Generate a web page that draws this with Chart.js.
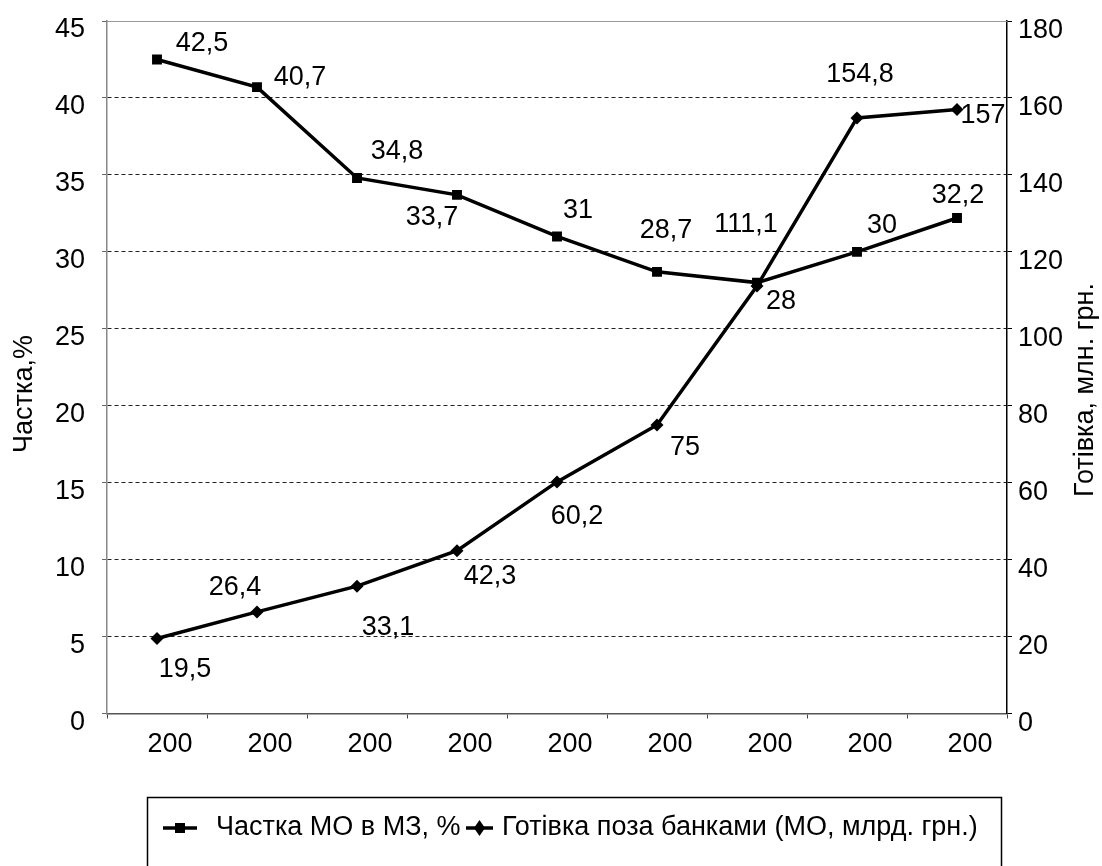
<!DOCTYPE html>
<html>
<head>
<meta charset="utf-8">
<script src="https://cdn.jsdelivr.net/npm/chart.js@4.4.1/dist/chart.umd.min.js"></script>
<style>
  html, body { margin: 0; padding: 0; background: #fff; }
  #wrap { width: 1102px; height: 866px; position: relative; }
</style>
</head>
<body>
<div id="wrap"><canvas id="chart" width="1102" height="866"></canvas></div>
<script>
// tick labels on the category axis (cut off in the source picture)
const years = ['200', '200', '200', '200', '200', '200', '200', '200', '200'];
// share of M0 in M3, %
const shareMO = [42.5, 40.7, 34.8, 33.7, 31, 28.7, 28, 30, 32.2];
// cash outside banks
const cashOutside = [19.5, 26.4, 33.1, 42.3, 60.2, 75, 111.1, 154.8, 157];

const shareLabel = 'Частка МО в МЗ, %';
const cashLabel = 'Готівка поза банками (МО, млрд. грн.)';
const leftTitle = 'Частка,%';
const rightTitle = 'Готівка, млн. грн.';

// where each value label sits relative to its point
const shareShift = [[45, -16], [43, -10], [40, -26], [-25, 23], [21, -26], [9, -41], [24, 19], [25, -26], [1, -22]];
const cashShift = [[28, 31], [-22, -24], [31, 41], [33, 26], [20, 35], [28, 23], [-11, -62], [3, -43], [26, 6]];

const FONT = "'Liberation Sans', Arial, sans-serif";
const FS = 27;

// value labels next to points
const valueLabels = {
  id: 'valueLabels',
  afterDatasetsDraw(chart) {
    const ctx = chart.ctx;
    const shifts = [shareShift, cashShift];
    ctx.save();
    ctx.font = FS + 'px ' + FONT;
    ctx.fillStyle = '#000';
    ctx.textAlign = 'center';
    ctx.textBaseline = 'middle';
    chart.data.datasets.forEach((ds, di) => {
      chart.getDatasetMeta(di).data.forEach((pt, i) => {
        const s = shifts[di][i];
        ctx.fillText(String(ds.data[i]).replace('.', ','), pt.x + s[0], pt.y + s[1]);
      });
    });
    ctx.restore();
  },
};

// top border, axis titles, framed legend
const frame = {
  id: 'frame',
  afterDraw(chart) {
    const ctx = chart.ctx;
    const a = chart.chartArea;
    ctx.save();

    ctx.strokeStyle = '#999';
    ctx.lineWidth = 1;
    ctx.beginPath();
    ctx.moveTo(a.left, a.top + 0.5);
    ctx.lineTo(a.right, a.top + 0.5);
    ctx.stroke();

    ctx.fillStyle = '#000';
    ctx.font = FS + 'px ' + FONT;
    ctx.textAlign = 'center';
    ctx.textBaseline = 'middle';
    ctx.save();
    ctx.translate(25, 394);
    ctx.rotate(-Math.PI / 2);
    ctx.fillText(leftTitle, 0, 0);
    ctx.restore();
    ctx.save();
    ctx.translate(1086, 390);
    ctx.rotate(-Math.PI / 2);
    ctx.fillText(rightTitle, 0, 0);
    ctx.restore();

    // legend box
    ctx.strokeStyle = '#000';
    ctx.lineWidth = 1.5;
    ctx.strokeRect(147.5, 797.5, 854, 90);

    const ly = 828;
    ctx.lineWidth = 3.5;
    ctx.beginPath();
    ctx.moveTo(163, ly);
    ctx.lineTo(197, ly);
    ctx.stroke();
    ctx.fillRect(175, ly - 5, 10, 10);

    ctx.beginPath();
    ctx.moveTo(466, ly);
    ctx.lineTo(493, ly);
    ctx.stroke();
    ctx.beginPath();
    ctx.moveTo(479.5, ly - 8);
    ctx.lineTo(485, ly);
    ctx.lineTo(479.5, ly + 8);
    ctx.lineTo(474, ly);
    ctx.closePath();
    ctx.fill();

    ctx.textAlign = 'left';
    ctx.fillText(chart.data.datasets[0].label, 216, ly);
    ctx.fillText(chart.data.datasets[1].label, 502, ly);
    ctx.restore();
  },
};

// drop the half-label padding so the plot top sits where the source has it
const noPad = (w) => (scale) => {
  scale.width = w;
  scale.paddingTop = 0;
  scale.paddingBottom = 0;
};

new Chart(document.getElementById('chart'), {
  type: 'line',
  data: {
    labels: years,
    datasets: [
      {
        label: shareLabel,
        data: shareMO,
        yAxisID: 'y',
        borderColor: '#000',
        backgroundColor: '#000',
        borderWidth: 3.5,
        tension: 0,
        pointStyle: 'rect',
        pointRadius: 7,
        pointBorderWidth: 0,
      },
      {
        label: cashLabel,
        data: cashOutside,
        yAxisID: 'y2',
        borderColor: '#000',
        backgroundColor: '#000',
        borderWidth: 3.5,
        tension: 0,
        pointStyle: 'rectRot',
        pointRadius: 6.5,
        pointBorderWidth: 0,
      },
    ],
  },
  options: {
    responsive: false,
    animation: false,
    layout: { padding: { top: 21, left: 0, right: 0, bottom: 0 } },
    plugins: {
      legend: { display: false },
      tooltip: { enabled: false },
    },
    scales: {
      x: {
        offset: true,
        afterFit: (scale) => { scale.height = 152.5; },
        grid: {
          offset: true,
          drawOnChartArea: false,
          tickLength: 5,
          tickColor: '#444',
        },
        border: { color: '#555', width: 1.5 },
        ticks: {
          color: '#000',
          font: { family: FONT, size: FS },
          padding: 10,
          labelOffset: 13,
          maxRotation: 0,
          autoSkip: false,
        },
      },
      y: {
        position: 'left',
        min: 0,
        max: 45,
        afterFit: noPad(107),
        grid: {
          color: (c) => (c.tick && (c.tick.value === 0 || c.tick.value === 45) ? 'rgba(0,0,0,0)' : '#222'),
          lineWidth: 1,
          tickLength: 5,
          tickColor: '#666',
        },
        border: { color: '#888', width: 1.5, dash: [4, 3] },
        ticks: {
          stepSize: 5,
          color: '#000',
          font: { family: FONT, size: FS },
          padding: 17,
          labelOffset: 9,
        },
      },
      y2: {
        position: 'right',
        min: 0,
        max: 180,
        afterFit: noPad(95),
        grid: {
          drawOnChartArea: false,
          tickLength: 5,
          tickColor: '#000',
        },
        border: { color: '#000', width: 1.5 },
        ticks: {
          stepSize: 20,
          color: '#000',
          font: { family: FONT, size: FS },
          padding: 6,
          labelOffset: 10,
        },
      },
    },
  },
  plugins: [valueLabels, frame],
});
</script>
</body>
</html>
